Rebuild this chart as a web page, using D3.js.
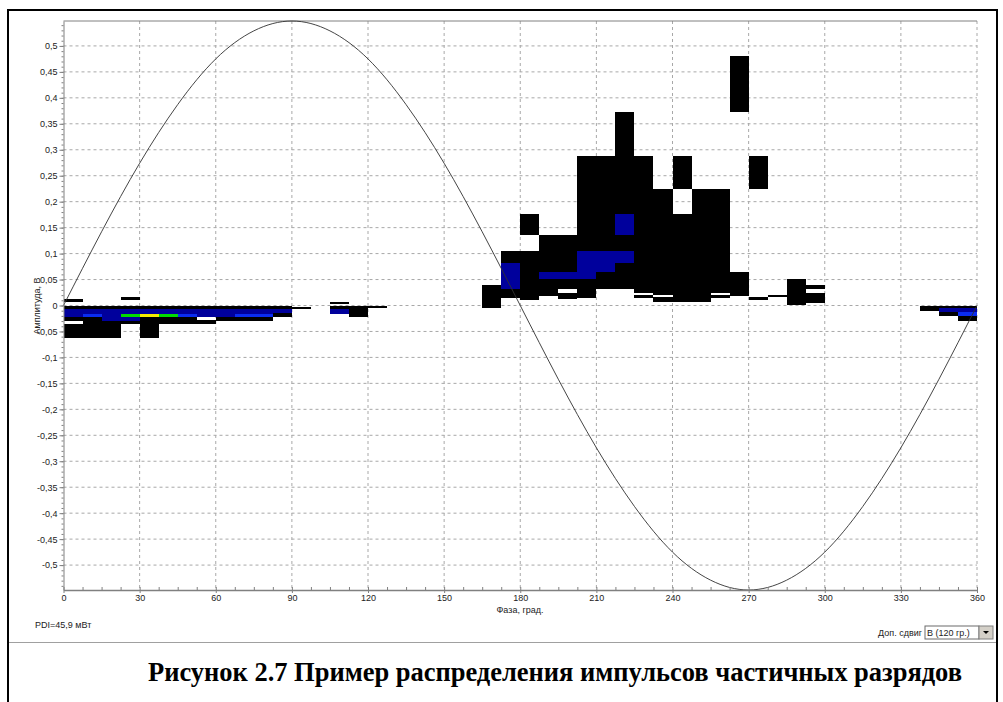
<!DOCTYPE html>
<html lang="ru">
<head>
<meta charset="UTF-8">
<title>Распределение импульсов частичных разрядов</title>
<script src="https://d3js.org/d3.v7.min.js"></script>
<style>
  body { margin: 0; background: #fff; }
  svg { display: block; font-family: "Liberation Sans", Arial, sans-serif; }
  .axis text { font-size: 9px; fill: #222; }
  .axis path, .axis line { stroke: #808080; }
  .grid line { stroke: #a8a8a8; stroke-dasharray: 3,3; }
  .label { font-size: 9px; fill: #222; }
  .cells rect { shape-rendering: crispEdges; }
  .caption { font-family: "Liberation Serif", "Times New Roman", serif; font-weight: bold; font-size: 26.5px; }
</style>
</head>
<body>
<div id="chart"></div>
<script>
// оси
const phaseTicks = [0, 30, 60, 90, 120, 150, 180, 210, 240, 270, 300, 330, 360];
const ampTicks = [-0.5, -0.45, -0.4, -0.35, -0.3, -0.25, -0.2, -0.15, -0.1, -0.05, 0,
                  0.05, 0.1, 0.15, 0.2, 0.25, 0.3, 0.35, 0.4, 0.45, 0.5];

const sinePhase = [0, 15, 30, 45, 60, 75, 90, 105, 120, 135, 150, 165, 180,
                   195, 210, 225, 240, 255, 270, 285, 300, 315, 330, 345, 360];
const sineAmp = [0, 0.142, 0.274, 0.387, 0.475, 0.529, 0.548, 0.529, 0.475, 0.387, 0.274, 0.142, 0,
                 -0.142, -0.274, -0.387, -0.475, -0.529, -0.548, -0.529, -0.475, -0.387, -0.274, -0.142, 0];

// цвета по числу импульсов: 1 - мало ... 5 - много
const levelColors = { 1: "#000000", 2: "#00009c", 3: "#0a2cf0", 4: "#00dc00", 5: "#f4ec00" };
const binWidth = 7.5;

// ячейки: [фаза начала, ампл. нижняя, ампл. верхняя, уровень]
const cellsLeft = [
  [0, 0.007, 0.012, 1], [22.5, 0.010, 0.016, 1],
  [0, -0.007, 0, 1], [0, -0.022, -0.007, 2], [0, -0.029, -0.022, 1], [0, -0.063, -0.035, 1],
  [7.5, -0.007, 0, 1], [7.5, -0.017, -0.007, 2], [7.5, -0.022, -0.017, 3], [7.5, -0.063, -0.022, 1],
  [15, -0.007, 0, 1], [15, -0.029, -0.007, 2], [15, -0.063, -0.029, 1],
  [22.5, -0.007, 0, 1], [22.5, -0.017, -0.007, 2], [22.5, -0.022, -0.017, 4], [22.5, -0.029, -0.022, 2], [22.5, -0.035, -0.029, 1],
  [30, -0.007, 0, 1], [30, -0.017, -0.007, 2], [30, -0.022, -0.017, 5], [30, -0.063, -0.022, 1],
  [37.5, -0.007, 0, 1], [37.5, -0.017, -0.007, 2], [37.5, -0.022, -0.017, 4], [37.5, -0.035, -0.022, 1],
  [45, -0.007, 0, 1], [45, -0.017, -0.007, 2], [45, -0.022, -0.017, 3], [45, -0.035, -0.022, 1],
  [52.5, -0.007, 0, 1], [52.5, -0.022, -0.007, 2], [52.5, -0.035, -0.028, 1],
  [60, -0.007, 0, 1], [60, -0.022, -0.007, 2], [60, -0.029, -0.022, 1],
  [67.5, -0.007, 0, 1], [67.5, -0.017, -0.007, 2], [67.5, -0.022, -0.017, 3], [67.5, -0.029, -0.022, 1],
  [75, -0.007, 0, 1], [75, -0.017, -0.007, 2], [75, -0.022, -0.017, 3], [75, -0.029, -0.022, 1],
  [82.5, -0.007, 0, 1], [82.5, -0.015, -0.007, 2], [82.5, -0.022, -0.015, 1],
  [90, -0.007, -0.0025, 1],
  [105, 0.002, 0.007, 1], [105, -0.007, 0, 1], [105, -0.017, -0.007, 2],
  [112.5, -0.022, 0, 1],
  [120, -0.004, 0, 1]
];

const cellsRight = [
  [165, -0.005, 0.040, 1],
  [172.5, 0.014, 0.032, 1], [172.5, 0.032, 0.082, 2], [172.5, 0.082, 0.105, 1],
  [180, 0.010, 0.105, 1], [180, 0.136, 0.176, 1],
  [187.5, 0.019, 0.051, 1], [187.5, 0.051, 0.064, 2], [187.5, 0.064, 0.136, 1],
  [195, 0.012, 0.025, 1], [195, 0.032, 0.051, 1], [195, 0.051, 0.064, 2], [195, 0.064, 0.136, 1],
  [202.5, 0.014, 0.051, 1], [202.5, 0.051, 0.105, 2], [202.5, 0.105, 0.288, 1],
  [210, 0.032, 0.064, 1], [210, 0.064, 0.105, 2], [210, 0.105, 0.288, 1],
  [217.5, 0.032, 0.082, 1], [217.5, 0.082, 0.105, 2], [217.5, 0.105, 0.136, 1], [217.5, 0.136, 0.176, 2], [217.5, 0.176, 0.373, 1],
  [225, 0.014, 0.021, 1], [225, 0.024, 0.288, 1],
  [232.5, 0.006, 0.017, 1], [232.5, 0.021, 0.224, 1],
  [240, 0.006, 0.176, 1], [240, 0.224, 0.288, 1],
  [247.5, 0.006, 0.224, 1],
  [255, 0.014, 0.021, 1], [255, 0.024, 0.224, 1],
  [262.5, 0.019, 0.064, 1], [262.5, 0.373, 0.480, 1],
  [270, 0.011, 0.016, 1], [270, 0.224, 0.288, 1],
  [277.5, 0.016, 0.020, 1],
  [285, 0.001, 0.051, 1],
  [292.5, 0.005, 0.025, 1], [292.5, 0.032, 0.040, 1],
  [337.5, -0.010, 0, 1],
  [345, -0.004, 0, 1], [345, -0.012, -0.004, 2], [345, -0.021, -0.012, 1],
  [352.5, -0.004, 0, 1], [352.5, -0.012, -0.004, 2], [352.5, -0.021, -0.012, 3], [352.5, -0.029, -0.021, 1]
];

const cells = cellsLeft.concat(cellsRight);

const W = 1003, H = 702;
const plotLeft = 63.5, plotRight = 977, plotTop = 21, plotBottom = 590;

const svg = d3.select("#chart").append("svg")
  .attr("width", W)
  .attr("height", H);

const x = d3.scaleLinear().domain([0, 360]).range([plotLeft, plotRight]);
const y = d3.scaleLinear().domain([-0.548, 0.548]).range([plotBottom, plotTop]);

const fmt = d => (+d.toFixed(2)).toString().replace(".", ",");

// рамка рисунка
svg.append("rect")
  .attr("x", 8).attr("y", 10)
  .attr("width", 989).attr("height", 720)
  .attr("fill", "none").attr("stroke", "#000").attr("stroke-width", 2);

// сетка
const grid = svg.append("g").attr("class", "grid");
grid.selectAll(".h").data(ampTicks).enter().append("line")
  .attr("x1", plotLeft).attr("x2", plotRight)
  .attr("y1", d => y(d)).attr("y2", d => y(d));
grid.selectAll(".v").data(phaseTicks.slice(1)).enter().append("line")
  .attr("x1", d => x(d)).attr("x2", d => x(d))
  .attr("y1", plotTop).attr("y2", plotBottom);

// верхняя граница поля
svg.append("line")
  .attr("x1", plotLeft).attr("x2", plotRight)
  .attr("y1", plotTop).attr("y2", plotTop)
  .attr("stroke", "#808080");

// ячейки распределения
svg.append("g").attr("class", "cells").selectAll("rect")
  .data(cells)
  .enter().append("rect")
  .attr("x", d => x(d[0]))
  .attr("width", d => x(d[0] + binWidth) - x(d[0]))
  .attr("y", d => y(d[2]))
  .attr("height", d => y(d[1]) - y(d[2]))
  .attr("fill", d => levelColors[d[3]]);

// синусоида
const line = d3.line()
  .x((d, i) => x(sinePhase[i]))
  .y(d => y(d))
  .curve(d3.curveNatural);
svg.append("path")
  .datum(sineAmp)
  .attr("d", line)
  .attr("fill", "none")
  .attr("stroke", "#303030")
  .attr("stroke-width", 0.9);

// ось Y
svg.append("g")
  .attr("class", "axis")
  .attr("transform", `translate(${plotLeft},0)`)
  .call(d3.axisLeft(y).tickValues(ampTicks).tickSize(4).tickSizeOuter(0).tickPadding(2).tickFormat(fmt));
svg.append("g")
  .attr("class", "axis")
  .attr("transform", `translate(${plotLeft},0)`)
  .call(d3.axisLeft(y).ticks(110).tickSize(2).tickFormat(""))
  .call(g => g.select(".domain").remove());

// ось X
svg.append("g")
  .attr("class", "axis")
  .attr("transform", `translate(0,${plotBottom})`)
  .call(d3.axisBottom(x).tickValues(phaseTicks).tickSize(3).tickSizeOuter(0).tickPadding(2).tickFormat(d => d))
  .call(g => g.select(".domain").attr("stroke-width", 1.5));
svg.append("g")
  .attr("class", "axis")
  .attr("transform", `translate(0,${plotBottom})`)
  .call(d3.axisBottom(x).tickValues(d3.range(0, 361, 7.5)).tickSize(-3).tickFormat(""))
  .call(g => g.select(".domain").remove());

// подписи
svg.append("text")
  .attr("class", "label")
  .attr("transform", "translate(40,306) rotate(-90)")
  .attr("text-anchor", "middle")
  .text("Амплитуда, В");

svg.append("text")
  .attr("class", "label")
  .attr("x", 520).attr("y", 613)
  .attr("text-anchor", "middle")
  .text("Фаза, град.");

svg.append("text")
  .attr("class", "label")
  .attr("x", 35).attr("y", 628)
  .text("PDI=45,9 мВт");

svg.append("text")
  .attr("class", "label")
  .attr("x", 922).attr("y", 636)
  .attr("text-anchor", "end")
  .text("Доп. сдвиг");

// выпадающий список
svg.append("rect")
  .attr("x", 925).attr("y", 626).attr("width", 54).attr("height", 13)
  .attr("fill", "#fff").attr("stroke", "#6a6a6a");
svg.append("text")
  .attr("class", "label")
  .attr("x", 927).attr("y", 636)
  .text("В (120 гр.)");
svg.append("rect")
  .attr("x", 979).attr("y", 626).attr("width", 14).attr("height", 13)
  .attr("fill", "#d4d0c8").attr("stroke", "#808080");
svg.append("path")
  .attr("d", "M983,631 L989,631 L986,634 Z")
  .attr("fill", "#000");

// разделитель
svg.append("line")
  .attr("x1", 9).attr("x2", 996)
  .attr("y1", 642.5).attr("y2", 642.5)
  .attr("stroke", "#a0a0a0");

svg.append("text")
  .attr("class", "caption")
  .attr("x", 148).attr("y", 681)
  .attr("textLength", 814)
  .attr("lengthAdjust", "spacing")
  .text("Рисунок 2.7 Пример распределения импульсов частичных разрядов");
</script>
</body>
</html>
